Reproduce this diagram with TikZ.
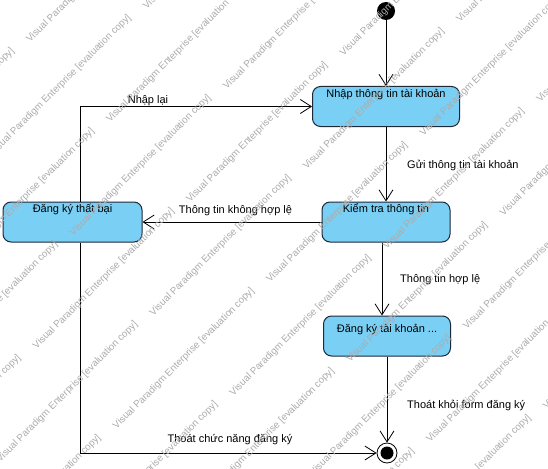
\documentclass[tikz,border=0pt]{standalone}
\usepackage{fontspec}
\setmainfont{Liberation Sans}
\usetikzlibrary{arrows.meta,calc}

\definecolor{statefill}{RGB}{122,207,245}
\definecolor{stateline}{RGB}{30,40,55}
\definecolor{wmgray}{RGB}{172,172,172}

\begin{document}
\begin{tikzpicture}[x=1pt,y=-1pt,
  statebox/.style={draw=stateline, line width=1pt, fill=statefill,
    rounded corners=8pt, minimum height=40pt, inner sep=0pt},
  statetext/.style={anchor=base, inner sep=0pt, font=\fontsize{11}{13}\selectfont},
  flow/.style={draw=black, line width=0.8pt,
    -{Straight Barb[length=11pt,width=14pt,line width=0.8pt]}},
  lbl/.style={inner sep=0pt, font=\fontsize{11}{13}\selectfont},
  wm/.style={rotate=45, anchor=base west, inner sep=0pt, text=wmgray,
    font=\fontsize{9.8}{11}\selectfont}]

\useasboundingbox (0,0) rectangle (548,468);
\fill[white] (0,0) rectangle (548,468);

% initial and final pseudo-states
\node[circle, fill=black, minimum size=18pt, inner sep=0pt] (init) at (386,11) {};
\node[circle, draw=black, line width=0.8pt, fill=white, minimum size=20pt, inner sep=0pt,
  path picture={\fill[black] (path picture bounding box.center) circle (6.5pt);}]
  (fin) at (387,453) {};

% states
\node[statebox, minimum width=147pt] (b1) at (386,106.5) {};
\node[statebox, minimum width=128pt] (b2) at (386,222) {};
\node[statebox, minimum width=139pt] (b3) at (72.5,222) {};
\node[statebox, minimum width=127pt] (b4) at (387,336) {};

\node[statetext] (t1) at ($(b1.north)+(0,11.5)$) {Nhập thông tin tài khoản};
\node[statetext] (t2) at ($(b2.north)+(0,11)$) {Kiểm tra thông tin};
\node[statetext] (t3) at ($(b3.north)+(0,11)$) {Đăng ký thất bại};
\node[statetext] (t4) at ($(b4.north)+(0,17)$) {Đăng ký tài khoản ...};

% transitions
\draw[flow] (init) -- (b1.north);
\draw[flow] (b1.south) -- (b2.north);
\draw[flow] (b2.west) -- (b3.east);
\draw[flow] ([xshift=-4pt]b2.south) -- ([xshift=-5pt]b4.north);
\draw[flow] (b4.south) -- (fin);
\draw[flow] ([xshift=7.5pt]b3.south) |- (fin);
\draw[flow] ([xshift=7.5pt]b3.north) |- (b1.west);

% transition labels
\node[lbl, anchor=west] (l1) at (407,165) {Gửi thông tin tài khoản};
\node[lbl] (l2) at (235.5,211) {Thông tin không hợp lệ};
\node[lbl, anchor=west] (l3) at (400,279.5) {Thông tin hợp lệ};
\node[lbl, anchor=west] (l4) at (407,405) {Thoát khỏi form đăng ký};
\node[lbl] (l5) at (230,440) {Thoát chức năng đăng ký};
\node[lbl] (l6) at (148,100.5) {Nhập lại};

% evaluation watermark, tiled on a slanted lattice; only tiles that reach the page
\begin{scope}
  \clip (0,0) rectangle (548,468);
  \foreach \i in {-5,...,8} {
    \foreach \j in {-3,...,5} {
      \pgfmathsetmacro\sx{110+80*\i-36.7*\j}
      \pgfmathsetmacro\sy{123+80*\i+113.3*\j}
      \pgfmathtruncatemacro\keep{and(and(\sx<548,\sx>-139),and(\sy>0,\sy<607))}
      \ifnum\keep=1
        \node[wm] (wm-\i-\j) at (\sx,\sy) {Visual Paradigm Enterprise [evaluation copy]};
      \fi
    }
  }
\end{scope}
\end{tikzpicture}
\end{document}
